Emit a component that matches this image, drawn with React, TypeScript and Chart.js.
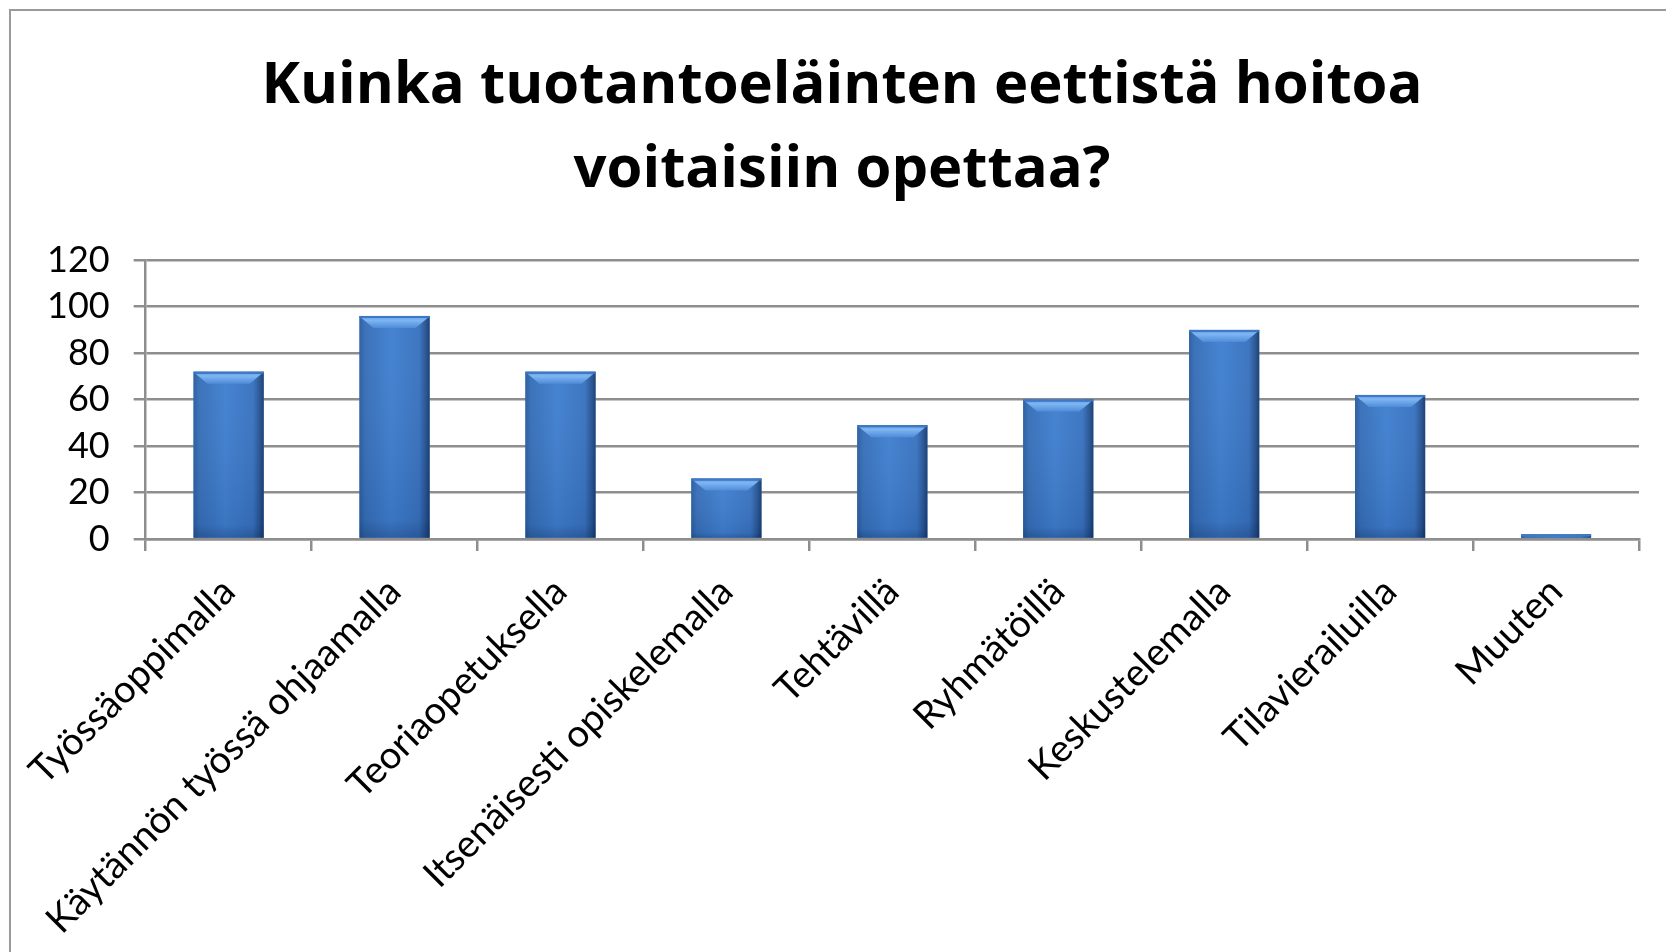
import React, { useEffect, useRef } from "react";
import { Chart, registerables } from "chart.js";

Chart.register(...registerables);

const titleLines = ["Kuinka tuotantoeläinten eettistä hoitoa", "voitaisiin opettaa?"];
const categories = [
  "Työssäoppimalla",
  "Käytännön työssä ohjaamalla",
  "Teoriaopetuksella",
  "Itsenäisesti opiskelemalla",
  "Tehtävillä",
  "Ryhmätöillä",
  "Keskustelemalla",
  "Tilavierailuilla",
  "Muuten",
];
const values = [72, 96, 72, 26, 49, 60, 90, 62, 2];
const yMin = 0;
const yMax = 120;
const yStep = 20;

const FONT = "Lato, 'Open Sans', sans-serif";
const TITLE_FONT = "'Open Sans', Lato, sans-serif";
const GRID = "#8e8e8e";

const barShading = {
  id: "barShading",
  afterDatasetsDraw(chart: any) {
    const ctx = chart.ctx;
    const meta = chart.getDatasetMeta(0);
    meta.data.forEach((bar: any) => {
      const { x, y, base, width } = bar.getProps(["x", "y", "base", "width"], true);
      const left = x - width / 2;
      const right = x + width / 2;
      const top = Math.min(y, base);
      const bottom = Math.max(y, base);
      const h = bottom - top;
      if (h <= 0) return;
      ctx.save();
      const g = ctx.createLinearGradient(left, 0, right, 0);
      g.addColorStop(0, "#2a5c9e");
      g.addColorStop(0.08, "#366fb8");
      g.addColorStop(0.45, "#3f7fd0");
      g.addColorStop(0.85, "#3872bf");
      g.addColorStop(0.95, "#24518f");
      g.addColorStop(1, "#173b6e");
      ctx.fillStyle = g;
      ctx.fillRect(left, top, width, h);
      const v = ctx.createLinearGradient(0, top, 0, bottom);
      v.addColorStop(0, "rgba(255,255,255,0.03)");
      v.addColorStop(0.92, "rgba(10,30,70,0.10)");
      v.addColorStop(1, "rgba(10,30,70,0.32)");
      ctx.fillStyle = v;
      ctx.fillRect(left, top, width, h);
      const bh = Math.min(12, h / 2);
      const tg = ctx.createLinearGradient(0, top, 0, top + bh);
      tg.addColorStop(0, "#5c99e2");
      tg.addColorStop(0.35, "#7fb6f3");
      tg.addColorStop(1, "#4f8cd8");
      ctx.fillStyle = tg;
      ctx.beginPath();
      ctx.moveTo(left + 2, top + 2);
      ctx.lineTo(right - 2, top + 2);
      ctx.lineTo(right - 2 - bh, top + bh);
      ctx.lineTo(left + 2 + bh, top + bh);
      ctx.closePath();
      ctx.fill();
      ctx.fillStyle = "#3f78c4";
      ctx.fillRect(left, top, width, Math.min(2, h));
      ctx.restore();
    });
  },
};

export default function App() {
  const ref = useRef<HTMLCanvasElement | null>(null);

  useEffect(() => {
    if (!ref.current) return;
    const chart = new Chart(ref.current, {
      type: "bar",
      data: {
        labels: categories,
        datasets: [
          {
            data: values,
            backgroundColor: "#3b78c6",
            borderWidth: 0,
            barPercentage: 0.845,
            categoryPercentage: 0.5,
          },
        ],
      },
      plugins: [barShading],
      options: {
        responsive: false,
        animation: false,
        devicePixelRatio: 1,
        layout: { padding: { left: 34, right: 43, top: 0, bottom: 0 } },
        plugins: {
          legend: { display: false },
          tooltip: { enabled: false },
          title: {
            display: true,
            text: titleLines,
            color: "#000",
            font: { family: TITLE_FONT, size: 58, weight: "bold", lineHeight: 1.45 },
            padding: { top: 33, bottom: 48 },
          },
        },
        scales: {
          x: {
            grid: {
              display: true,
              offset: true,
              drawOnChartArea: false,
              drawTicks: true,
              tickLength: 12,
              color: GRID,
              lineWidth: 2.5,
            },
            border: { display: true, color: GRID, width: 2.5 },
            ticks: {
              color: "#000",
              font: { family: FONT, size: 38 },
              minRotation: 45,
              maxRotation: 45,
              autoSkip: false,
              padding: 18,
            },
            afterFit(scale: any) {
              scale.height = 413;
            },
          },
          y: {
            min: yMin,
            max: yMax,
            ticks: {
              stepSize: yStep,
              autoSkip: false,
              color: "#000",
              font: { family: FONT, size: 36 },
              padding: 24,
            },
            grid: {
              color: GRID,
              lineWidth: 2.5,
              tickLength: 12,
            },
            border: { display: true, color: GRID, width: 2.5 },
            afterFit(scale: any) {
              scale.width = 100;
            },
          },
        },
      },
    });
    return () => chart.destroy();
  }, []);

  return (
    <div
      style={{
        position: "fixed",
        left: 0,
        top: 0,
        width: 1666,
        height: 952,
        overflow: "hidden",
        background: "#fff",
      }}
    >
      <div
        style={{
          position: "absolute",
          left: 9,
          top: 9,
          width: 1700,
          height: 1000,
          borderLeft: "2px solid #9a9a9a",
          borderTop: "2px solid #9a9a9a",
        }}
      >
        <canvas ref={ref} width={1671} height={941} style={{ width: 1671, height: 941, display: "block" }} />
      </div>
    </div>
  );
}
